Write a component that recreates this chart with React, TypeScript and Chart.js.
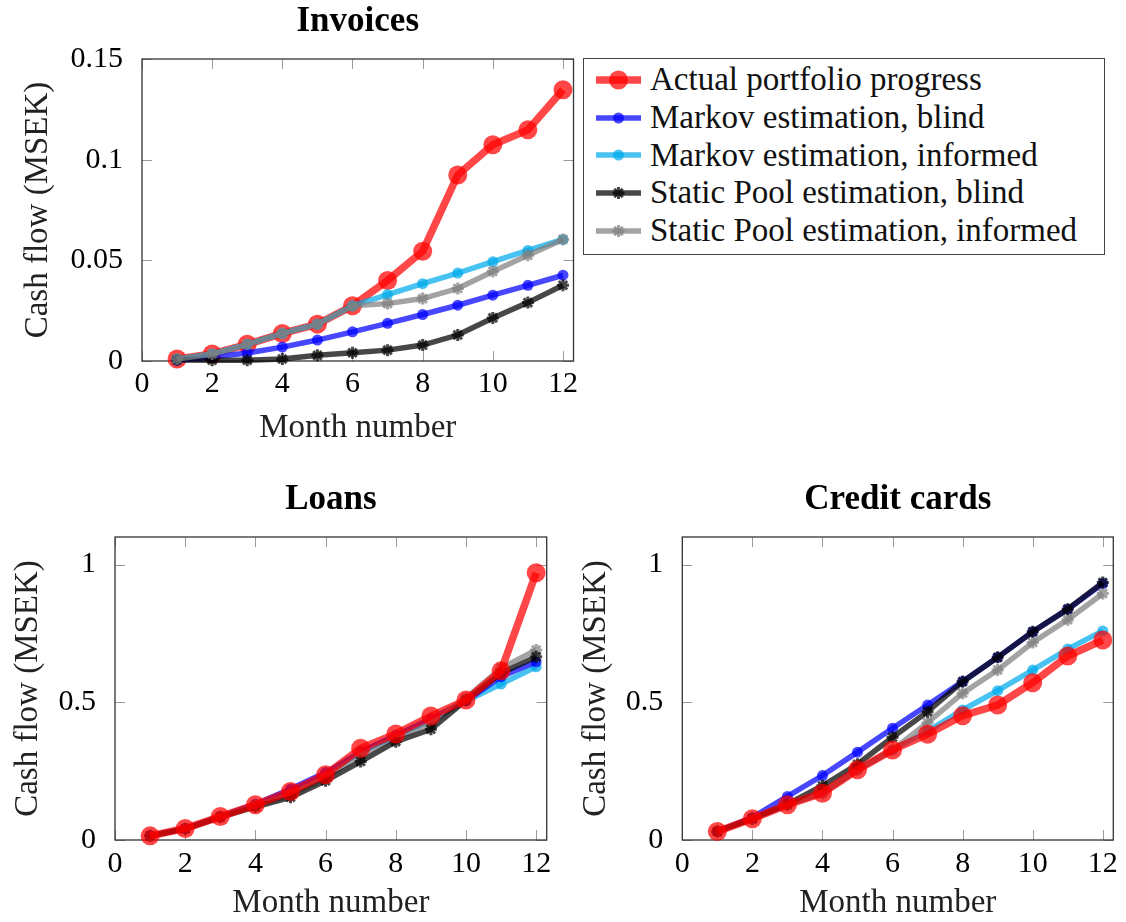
import React, { useEffect, useRef } from "react";
import { Chart, registerables } from "chart.js";

Chart.register(...registerables);

// ---------- data ----------
const MONTHS = [1, 2, 3, 4, 5, 6, 7, 8, 9, 10, 11, 12];
const X_TICKS = [0, 2, 4, 6, 8, 10, 12];
const X_TICK_LABELS = ["0", "2", "4", "6", "8", "10", "12"];
const INV_Y_TICKS = [0, 0.05, 0.1, 0.15];
const INV_Y_TICK_LABELS = ["0", "0.05", "0.1", "0.15"];
const LOW_Y_TICKS = [0, 0.5, 1];
const LOW_Y_TICK_LABELS = ["0", "0.5", "1"];

const SERIES_NAMES = [
  "Actual portfolio progress",
  "Markov estimation, blind",
  "Markov estimation, informed",
  "Static Pool estimation, blind",
  "Static Pool estimation, informed",
];

// Invoices
const INV_ACTUAL = [0.001, 0.0035, 0.0083, 0.0137, 0.0183, 0.0274, 0.04, 0.0545, 0.0924, 0.1074, 0.1148, 0.1347];
const INV_MARKOV_BLIND = [0.0005, 0.002, 0.004, 0.0069, 0.0104, 0.0145, 0.0187, 0.0231, 0.0277, 0.0327, 0.0376, 0.0426];
const INV_MARKOV_INFORMED = [0.001, 0.0035, 0.0083, 0.0137, 0.0183, 0.0274, 0.033, 0.0384, 0.0437, 0.0493, 0.0549, 0.0604];
const INV_STATIC_BLIND = [0.0005, 0.0004, 0.0004, 0.001, 0.0028, 0.0041, 0.0054, 0.0079, 0.0129, 0.0214, 0.029, 0.0376];
const INV_STATIC_INFORMED = [0.001, 0.0035, 0.0083, 0.0137, 0.0183, 0.0274, 0.0285, 0.031, 0.036, 0.0445, 0.0525, 0.0604];

// Loans
const LOAN_ACTUAL = [0.015, 0.042, 0.085, 0.128, 0.176, 0.237, 0.333, 0.385, 0.45, 0.508, 0.614, 0.97];
const LOAN_MARKOV_BLIND = [0.015, 0.042, 0.085, 0.13, 0.185, 0.245, 0.32, 0.38, 0.44, 0.505, 0.593, 0.647];
const LOAN_MARKOV_INFORMED = [0.015, 0.042, 0.085, 0.128, 0.176, 0.237, 0.32, 0.378, 0.435, 0.505, 0.566, 0.629];
const LOAN_STATIC_BLIND = [0.015, 0.04, 0.083, 0.12, 0.155, 0.215, 0.285, 0.357, 0.402, 0.508, 0.605, 0.665];
const LOAN_STATIC_INFORMED = [0.015, 0.042, 0.085, 0.125, 0.165, 0.228, 0.31, 0.372, 0.425, 0.515, 0.623, 0.69];

// Credit cards
const CARD_ACTUAL = [0.031, 0.077, 0.128, 0.17, 0.255, 0.327, 0.384, 0.451, 0.49, 0.571, 0.668, 0.726];
const CARD_MARKOV_BLIND = [0.031, 0.082, 0.158, 0.234, 0.319, 0.406, 0.49, 0.575, 0.663, 0.756, 0.838, 0.931];
const CARD_MARKOV_INFORMED = [0.031, 0.077, 0.128, 0.17, 0.255, 0.327, 0.395, 0.472, 0.542, 0.617, 0.693, 0.759];
const CARD_STATIC_BLIND = [0.031, 0.077, 0.13, 0.197, 0.275, 0.373, 0.466, 0.575, 0.663, 0.756, 0.838, 0.935];
const CARD_STATIC_INFORMED = [0.031, 0.077, 0.128, 0.17, 0.255, 0.327, 0.426, 0.533, 0.617, 0.717, 0.8, 0.895];

// ---------- styles ----------
const FONT = '"Liberation Serif", "Times New Roman", serif';
type SeriesStyle = { color: string; width: number; point: "circle" | "star"; radius: number; pbw: number };
const STYLES: SeriesStyle[] = [
  { color: "rgba(255,0,0,0.72)", width: 7.5, point: "circle", radius: 9.5, pbw: 0 },
  { color: "rgba(0,0,255,0.72)", width: 5.5, point: "circle", radius: 5.5, pbw: 0 },
  { color: "rgba(0,170,235,0.72)", width: 5.5, point: "circle", radius: 5.5, pbw: 0 },
  { color: "rgba(0,0,0,0.72)", width: 5.5, point: "star", radius: 6, pbw: 3 },
  { color: "rgba(128,128,128,0.72)", width: 5.5, point: "star", radius: 6, pbw: 3 },
];

const framePlugin = {
  id: "frame",
  beforeDatasetsDraw(chart: any) {
    const { ctx, chartArea: a, scales } = chart;
    const xs = scales.x;
    const ys = scales.y;
    ctx.save();
    ctx.strokeStyle = "#9a9a9a";
    ctx.lineWidth = 1;
    ctx.beginPath();
    xs.ticks.forEach((t: any) => {
      const px = Math.round(xs.getPixelForValue(t.value)) + 0.5;
      ctx.moveTo(px, a.bottom);
      ctx.lineTo(px, a.bottom - 10);
      ctx.moveTo(px, a.top);
      ctx.lineTo(px, a.top + 10);
    });
    ys.ticks.forEach((t: any) => {
      const py = Math.round(ys.getPixelForValue(t.value)) + 0.5;
      ctx.moveTo(a.left, py);
      ctx.lineTo(a.left + 10, py);
      ctx.moveTo(a.right, py);
      ctx.lineTo(a.right - 10, py);
    });
    ctx.stroke();
    ctx.strokeStyle = "#333";
    ctx.lineWidth = 1.3;
    ctx.strokeRect(a.left, a.top, a.right - a.left, a.bottom - a.top);
    ctx.restore();
  },
};

type Spec = {
  title: string;
  series: number[][];
  orders: number[];
  yTicks: number[];
  yTickLabels: string[];
  yMax: number;
  w: number;
  h: number;
  yAxisW: number;
  xAxisH: number;
  padRight: number;
  titlePadTop: number;
  titlePadBottom: number;
  yTitlePad: number;
  xTitlePad: number;
  xTickPad: number;
};

function ChartBox({ spec, left, top }: { spec: Spec; left: number; top: number }) {
  const ref = useRef<HTMLCanvasElement>(null);
  useEffect(() => {
    if (!ref.current) return;
    const datasets = spec.series.map((vals, i) => {
      const st = STYLES[i];
      return {
        label: SERIES_NAMES[i],
        data: MONTHS.map((m, j) => ({ x: m, y: vals[j] })),
        borderColor: st.color,
        backgroundColor: st.color,
        borderWidth: st.width,
        pointStyle: st.point,
        pointRadius: st.radius,
        pointBackgroundColor: st.color,
        pointBorderColor: st.color,
        pointBorderWidth: st.pbw,
        tension: 0,
        clip: false as any,
        order: spec.orders[i],
      };
    });
    const chart = new Chart(ref.current, {
      type: "line",
      data: { datasets },
      plugins: [framePlugin],
      options: {
        animation: false,
        responsive: false,
        events: [],
        layout: { padding: { left: 0, top: 0, bottom: 0, right: spec.padRight } },
        plugins: {
          legend: { display: false },
          tooltip: { enabled: false },
          title: {
            display: true,
            fullSize: false,
            text: spec.title,
            color: "#000",
            font: { family: FONT, size: 35, weight: "bold", lineHeight: 1.2 },
            padding: { top: spec.titlePadTop, bottom: spec.titlePadBottom },
          },
        },
        scales: {
          x: {
            type: "linear",
            min: 0,
            max: 12.3,
            afterBuildTicks: (s: any) => {
              s.ticks = X_TICKS.map((v) => ({ value: v }));
            },
            afterFit: (s: any) => {
              s.height = spec.xAxisH;
            },
            grid: { display: false },
            border: { display: false },
            ticks: {
              autoSkip: false,
              maxRotation: 0,
              padding: spec.xTickPad,
              color: "#000",
              font: { family: FONT, size: 30, lineHeight: 1.2 },
              callback: (v: any) => {
                const k = X_TICKS.indexOf(Number(v));
                return k >= 0 ? X_TICK_LABELS[k] : "";
              },
            },
            title: {
              display: true,
              text: "Month number",
              color: "#222",
              font: { family: FONT, size: 33, lineHeight: 1.2 },
              padding: { top: 0, bottom: spec.xTitlePad },
            },
          },
          y: {
            type: "linear",
            min: 0,
            max: spec.yMax,
            afterBuildTicks: (s: any) => {
              s.ticks = spec.yTicks.map((v) => ({ value: v }));
            },
            afterFit: (s: any) => {
              s.width = spec.yAxisW;
            },
            grid: { display: false },
            border: { display: false },
            ticks: {
              autoSkip: false,
              padding: 11,
              color: "#000",
              font: { family: FONT, size: 30, lineHeight: 1.2 },
              callback: (v: any) => {
                const k = spec.yTicks.indexOf(Number(v));
                return k >= 0 ? spec.yTickLabels[k] : "";
              },
            },
            title: {
              display: true,
              text: "Cash flow (MSEK)",
              color: "#222",
              font: { family: FONT, size: 33, lineHeight: 1.2 },
              padding: { top: spec.yTitlePad, bottom: 0 },
            },
          },
        },
      } as any,
    });
    return () => chart.destroy();
  }, [spec]);
  return (
    <div style={{ position: "absolute", left, top, width: spec.w, height: spec.h }}>
      <canvas ref={ref} width={spec.w} height={spec.h} style={{ width: spec.w, height: spec.h, display: "block" }} />
    </div>
  );
}

const INV_SPEC: Spec = {
  title: "Invoices",
  series: [INV_ACTUAL, INV_MARKOV_BLIND, INV_MARKOV_INFORMED, INV_STATIC_BLIND, INV_STATIC_INFORMED],
  orders: [4, 3, 2, 1, 0],
  yTicks: INV_Y_TICKS,
  yTickLabels: INV_Y_TICK_LABELS,
  yMax: 0.15,
  w: 590,
  h: 450,
  yAxisW: 142,
  xAxisH: 89,
  padRight: 16.5,
  titlePadTop: 1,
  titlePadBottom: 16,
  yTitlePad: 18.2,
  xTitlePad: 2,
  xTickPad: -2.4,
};

const LOAN_SPEC: Spec = {
  title: "Loans",
  series: [LOAN_ACTUAL, LOAN_MARKOV_BLIND, LOAN_MARKOV_INFORMED, LOAN_STATIC_BLIND, LOAN_STATIC_INFORMED],
  orders: [0, 3, 4, 1, 2],
  yTicks: LOW_Y_TICKS,
  yTickLabels: LOW_Y_TICK_LABELS,
  yMax: 1.1,
  w: 560,
  h: 455,
  yAxisW: 115,
  xAxisH: 85,
  padRight: 13.3,
  titlePadTop: 9,
  titlePadBottom: 16,
  yTitlePad: 8.2,
  xTitlePad: 1.5,
  xTickPad: -2,
};

const CARD_SPEC: Spec = {
  title: "Credit cards",
  series: [CARD_ACTUAL, CARD_MARKOV_BLIND, CARD_MARKOV_INFORMED, CARD_STATIC_BLIND, CARD_STATIC_INFORMED],
  orders: [0, 3, 4, 1, 2],
  yTicks: LOW_Y_TICKS,
  yTickLabels: LOW_Y_TICK_LABELS,
  yMax: 1.1,
  w: 560,
  h: 455,
  yAxisW: 116.3,
  xAxisH: 85,
  padRight: 12.7,
  titlePadTop: 9,
  titlePadBottom: 16,
  yTitlePad: 10.2,
  xTitlePad: 1.5,
  xTickPad: -2,
};

function LegendSample({ st }: { st: SeriesStyle }) {
  const cx = 22.5;
  const cy = 12;
  const r = st.radius;
  return (
    <svg width={45} height={24} style={{ position: "absolute", left: 12, top: 6.9 }}>
      <line x1={0} y1={cy} x2={45} y2={cy} stroke={st.color} strokeWidth={st.width} />
      {st.point === "circle" ? (
        <circle cx={cx} cy={cy} r={r} fill={st.color} />
      ) : (
        <path
          d={`M${cx - r} ${cy} L${cx + r} ${cy} M${cx} ${cy - r} L${cx} ${cy + r} M${cx - r * 0.707} ${cy - r * 0.707} L${cx + r * 0.707} ${cy + r * 0.707} M${cx - r * 0.707} ${cy + r * 0.707} L${cx + r * 0.707} ${cy - r * 0.707}`}
          stroke={st.color}
          strokeWidth={st.pbw}
          fill="none"
        />
      )}
    </svg>
  );
}

function Legend() {
  return (
    <div
      style={{
        position: "absolute",
        left: 583,
        top: 58,
        width: 522,
        height: 197,
        boxSizing: "border-box",
        border: "1.3px solid #444",
        background: "#fff",
        fontFamily: FONT,
        fontSize: 33,
        color: "#111",
      }}
    >
      {SERIES_NAMES.map((name, i) => (
        <div key={name} style={{ position: "absolute", left: 0, top: 2 + i * 37.8, height: 37.8, width: 520 }}>
          <LegendSample st={STYLES[i]} />
          <span style={{ position: "absolute", left: 66, top: 0, lineHeight: "37.8px", whiteSpace: "nowrap" }}>{name}</span>
        </div>
      ))}
    </div>
  );
}

export default function App() {
  return (
    <div style={{ position: "absolute", left: 0, top: 0, width: 1126, height: 922, overflow: "hidden", background: "#fff" }}>
      <ChartBox spec={INV_SPEC} left={0} top={0} />
      <Legend />
      <ChartBox spec={LOAN_SPEC} left={0} top={470} />
      <ChartBox spec={CARD_SPEC} left={566} top={470} />
    </div>
  );
}
